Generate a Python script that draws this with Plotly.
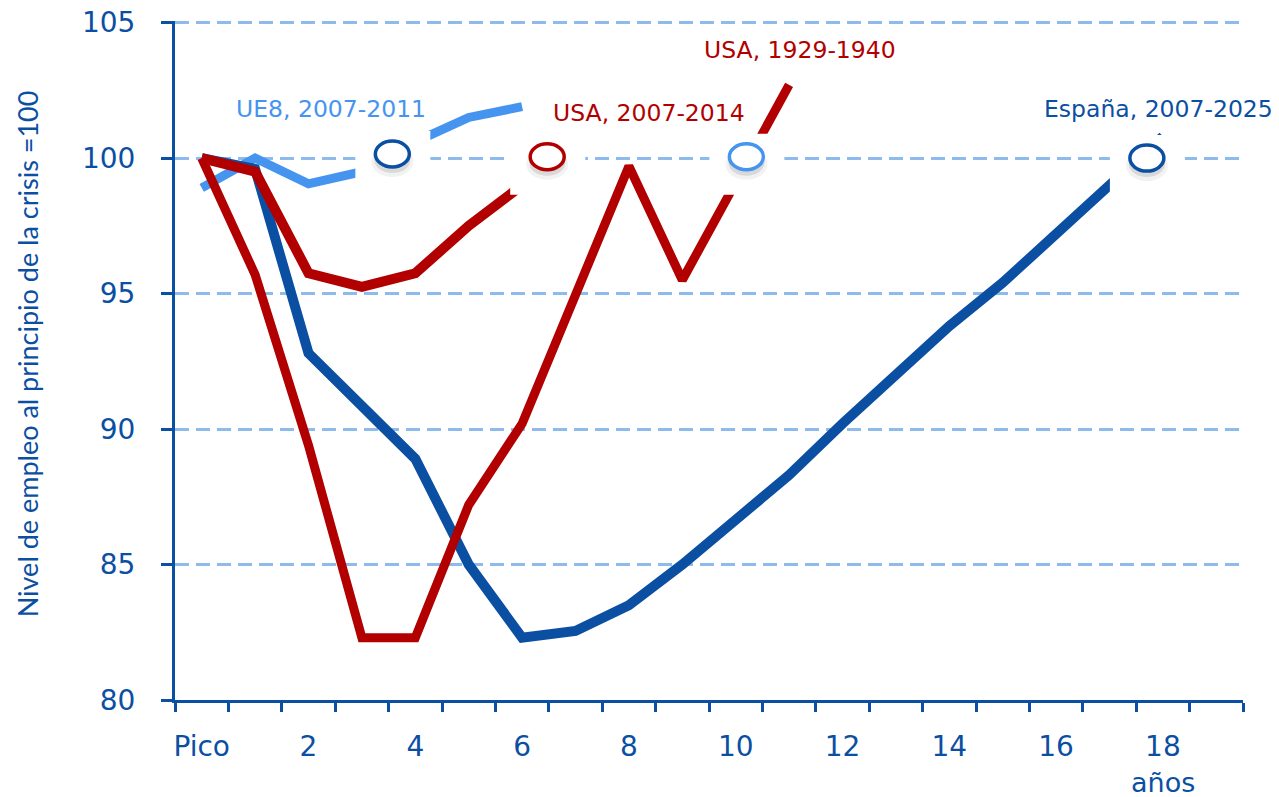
import plotly.graph_objects as go

# --- datos (nivel de empleo, inicio de la crisis = 100) ---
espana = [100, 99.6, 92.8, 90.85, 88.9, 85.0, 82.3, 82.55, 83.5, 85.0,
          86.6, 88.3, 90.2, 92.0, 93.8, 95.4, 97.2, 99.0, 100.8]
usa_1929 = [100, 95.7, 89.4, 82.3, 82.3, 87.2, 90.2, 95.0, 99.7, 95.5, 99.1, 102.7]
usa_2007 = [100, 99.5, 95.75, 95.25, 95.75, 97.5, 99.0]
ue8 = [98.9, 100.0, 99.05, 99.5, 100.6, 101.5, 101.9]

tick_vals = [0, 2, 4, 6, 8, 10, 12, 14, 16, 18]
tick_text = ["Pico", "2", "4", "6", "8", "10", "12", "14", "16", "18"]
y_ticks = [80, 85, 90, 95, 100, 105]

# etiquetas de serie y sus marcadores circulares
labels = ["UE8, 2007-2011", "USA, 2007-2014", "USA, 1929-1940", "España, 2007-2025"]
label_x = [2.42, 8.37, 11.2, 17.92]
label_y = [101.83, 101.65, 104.0, 101.8]
ring_x = [3.57, 6.47, 10.2, 17.7]
ring_y = [100.15, 100.05, 100.05, 100.0]

DARK = "#0B4FA3"
RED = "#B20000"
LIGHT = "#4594F0"
GRID = "#8EBBEB"
label_colors = [LIGHT, RED, RED, DARK]
ring_colors = [DARK, RED, LIGHT, DARK]

fig = go.Figure()
fig.add_trace(go.Scatter(x=list(range(len(ue8))), y=ue8, mode="lines",
                         line=dict(color=LIGHT, width=9)))
fig.add_trace(go.Scatter(x=list(range(len(espana))), y=espana, mode="lines",
                         line=dict(color=DARK, width=10)))
fig.add_trace(go.Scatter(x=list(range(len(usa_1929))), y=usa_1929, mode="lines",
                         line=dict(color=RED, width=9)))
fig.add_trace(go.Scatter(x=list(range(len(usa_2007))), y=usa_2007, mode="lines",
                         line=dict(color=RED, width=10)))

shapes = []
for rx, ry, rc in zip(ring_x, ring_y, ring_colors):
    common = dict(xref="x", yref="y", xsizemode="pixel", ysizemode="pixel",
                  xanchor=rx, yanchor=ry, layer="above")
    # white halo that hides lines behind the marker
    shapes.append(dict(type="rect", x0=-37, x1=38, y0=-38, y1=23,
                       fillcolor="white", line=dict(width=0), **common))
    # soft shadow
    shapes.append(dict(type="circle", x0=-21, x1=21, y0=-23, y1=8,
                       fillcolor="rgba(0,0,0,0.05)", line=dict(width=0), **common))
    shapes.append(dict(type="circle", x0=-18, x1=18, y0=-19, y1=7,
                       fillcolor="rgba(0,0,0,0.10)", line=dict(width=0), **common))
    # ring
    shapes.append(dict(type="circle", x0=-17, x1=17, y0=-13, y1=13,
                       fillcolor="white", line=dict(color=rc, width=3.5), **common))

annotations = []
for t, lx, ly, lc in zip(labels, label_x, label_y, label_colors):
    annotations.append(dict(text=t, x=lx, y=ly, xref="x", yref="y", xanchor="center",
                            yanchor="middle", showarrow=False,
                            font=dict(family="DejaVu Sans", size=23.5, color=lc)))
annotations.append(dict(text="años", x=18, y=-0.121, xref="x", yref="paper",
                        xanchor="center", yanchor="middle", showarrow=False,
                        font=dict(family="DejaVu Sans", size=27, color=DARK)))
annotations.append(dict(text="Nivel de empleo al principio de la crisis =100",
                        x=-0.138, y=0.51, xref="paper", yref="paper", textangle=-90,
                        xanchor="center", yanchor="middle", showarrow=False,
                        font=dict(family="Lato", size=27, color=DARK)))

# page body has an 8px margin, so the figure is 8px smaller each way
fig.update_layout(
    width=1271, height=789,
    margin=dict(l=167, r=36, t=13, b=97),
    paper_bgcolor="white", plot_bgcolor="white",
    showlegend=False,
    shapes=shapes,
    annotations=annotations,
    xaxis=dict(range=[-0.5, 19.5], tickmode="array", tickvals=tick_vals,
               ticktext=tick_text, ticks="", showgrid=False, zeroline=False,
               showline=True, linecolor=DARK, linewidth=3, automargin=False,
               tickfont=dict(family="DejaVu Sans", size=28, color=DARK),
               ticklabelstandoff=19,
               minor=dict(tick0=-0.5, dtick=1, ticks="outside", ticklen=9,
                          tickwidth=3, tickcolor=DARK, showgrid=False)),
    yaxis=dict(range=[80, 105.06], tickmode="array", tickvals=y_ticks,
               ticks="outside", ticklen=11, tickwidth=3, tickcolor=DARK,
               showline=True, linecolor=DARK, linewidth=3, zeroline=False,
               showgrid=True, gridcolor=GRID, gridwidth=2.5, griddash="14px,7px",
               tickfont=dict(family="DejaVu Sans", size=28, color=DARK),
               ticklabelstandoff=20, ticklabeloverflow="allow", automargin=False),
)

fig.write_html("out.html")
